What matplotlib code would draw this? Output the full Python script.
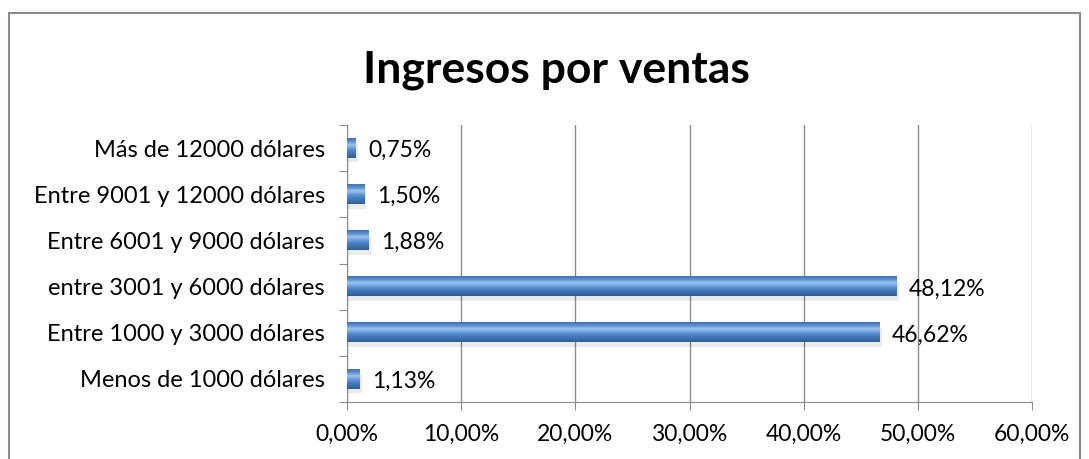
import matplotlib
matplotlib.use("Agg")
from matplotlib import pyplot as plt
from matplotlib.patches import Rectangle
from matplotlib.colors import LinearSegmentedColormap
import numpy as np

categories = ["Menos de 1000 dólares", "Entre 1000 y 3000 dólares",
              "entre 3001 y 6000 dólares", "Entre 6001 y 9000 dólares",
              "Entre 9001 y 12000 dólares", "Más de 12000 dólares"]
values = [1.13, 46.62, 48.12, 1.88, 1.50, 0.75]
labels = ["1,13%", "46,62%", "48,12%", "1,88%", "1,50%", "0,75%"]
xticks = [0, 10, 20, 30, 40, 50, 60]
xtick_labels = ["0,00%", "10,00%", "20,00%", "30,00%", "40,00%", "50,00%", "60,00%"]

plt.rcParams['font.family'] = ['Lato', 'DejaVu Sans']

fig = plt.figure(figsize=(10.89, 4.59), dpi=100)
fig.patches.append(Rectangle((9 / 1089, -0.05), 1071 / 1089, 1.05 - 13 / 459,
                             transform=fig.transFigure, fill=False,
                             edgecolor='#8c8c8c', linewidth=1.5))

ax = fig.add_axes([347 / 1089, 1 - 402 / 459, 685 / 1089, 277 / 459])
ax.set_xlim(0, 60)
ax.set_ylim(-0.5, len(categories) - 0.5)

# gradient for bars (dark bottom, light top stripe)
cmap = LinearSegmentedColormap.from_list(
    'bar', ['#2f5f95', '#3c6fab', '#4a80c2', '#6a9fdc', '#9cc3ee', '#5b8fcf', '#3f72b0'])
grad = np.linspace(0, 1, 64).reshape(-1, 1)
h = 0.42
for i, v in enumerate(values):
    # shadow
    ax.add_patch(Rectangle((0.1, i - h / 2 - 0.1), v + 0.1, h, facecolor='#000000',
                           alpha=0.08, edgecolor='none', zorder=2))
    ax.imshow(grad, cmap=cmap, aspect='auto', origin='lower',
              extent=(0, v, i - h / 2, i + h / 2), zorder=3)
    ax.text(v + 1.1, i - 0.05, labels[i], va='center', ha='left', fontsize=16.5, zorder=4)

ax.set_xticks(xticks)
ax.set_xticklabels(xtick_labels, fontsize=16.5)
ax.set_yticks(np.arange(-0.5, len(categories), 1))
ax.set_yticklabels([])
ax.set_yticks(range(len(categories)), minor=True)
ax.set_yticklabels(categories, minor=True, fontsize=17)
ax.tick_params(axis='y', which='major', length=6, color='#8c8c8c', direction='out')
ax.tick_params(axis='y', which='minor', length=0, pad=16)
ax.tick_params(axis='x', length=6, color='#8c8c8c', direction='out', pad=10)

ax.grid(axis='x', color='#8c8c8c', linewidth=1)
ax.set_axisbelow(True)
for s in ['top', 'right']:
    ax.spines[s].set_visible(False)
ax.spines['left'].set_color('#8c8c8c')
ax.spines['bottom'].set_color('#8c8c8c')

fig.text(556 / 1089, 1 - 70 / 459, "Ingresos por ventas", ha='center', va='center',
         fontsize=32, fontweight='bold')

fig.savefig("out.png", dpi=100)
